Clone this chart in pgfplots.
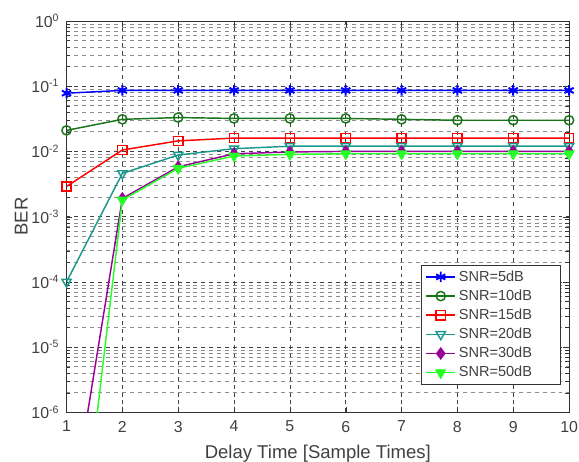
\documentclass[border=0pt]{standalone}
\usepackage{pgfplots}
\pgfplotsset{compat=1.18}
\usepackage{fontspec}
\setmainfont{Liberation Sans}

\definecolor{c5}{rgb}{0,0,1}
\definecolor{c10}{rgb}{0.1,0.45,0.1}
\definecolor{c15}{rgb}{1,0,0}
\definecolor{c20}{rgb}{0.1,0.6,0.55}
\definecolor{c30}{rgb}{0.6,0,0.6}
\definecolor{c50}{rgb}{0.15,1,0.15}

\newcommand{\legtext}[1]{\makebox[72pt][l]{#1}}

\begin{document}
\begin{tikzpicture}
% page frame: axis box is (0,0)--(380pt,296pt)
\useasboundingbox (-50.3pt,-36.8pt) rectangle (387.5pt,311.8pt);
\begin{semilogyaxis}[
  at={(0,0)}, anchor=south west,
  scale only axis,
  width=380pt, height=296pt,
  xmin=1, xmax=10, ymin=1e-6, ymax=1,
  xtick={1,...,10},
  xticklabels={1,2,3,4,5,6,7,8,9,10},
  ytick={1e-6,1e-5,1e-4,1e-3,1e-2,1e-1,1},
  yticklabels={10\textsuperscript{-6},10\textsuperscript{-5},10\textsuperscript{-4},
    10\textsuperscript{-3},10\textsuperscript{-2},10\textsuperscript{-1},10\textsuperscript{0}},
  grid=both,
  major grid style={black!75, dashed, line width=0.5pt},
  minor grid style={black!45, dashed, line width=0.5pt},
  axis line style={black!80, line width=0.6pt},
  tick style={black!80},
  tick align=inside,
  ticklabel style={font=\fontsize{12}{14}\selectfont, text=black!75},
  xticklabel style={yshift=-3pt},
  yticklabel style={xshift=-2pt},
  xlabel={Delay Time [Sample Times]},
  ylabel={BER},
  label style={font=\fontsize{14}{16}\selectfont, text=black!75},
  xlabel style={yshift=-3pt},
  ylabel style={yshift=-4pt},
  legend style={at={(0.984,0.071)}, anchor=south east,
    font=\fontsize{11}{13}\selectfont, draw=black!80, line width=0.6pt,
    row sep=1pt, inner xsep=3pt, inner ysep=2pt, text=black!75},
  legend cell align=left,
  legend image code/.code={%
    \draw[mark repeat=2, mark phase=2] plot coordinates {(0cm,0cm) (0.39cm,0cm) (0.78cm,0cm)};},
  every axis plot/.append style={line width=1.1pt},
]
\addplot[c5, mark=asterisk, mark size=4pt, mark options={line width=1.5pt}] coordinates {
  (1,0.078) (2,0.086) (3,0.086) (4,0.086) (5,0.086) (6,0.086) (7,0.086) (8,0.086) (9,0.086) (10,0.086)
};
\addplot[c10, mark=o, mark size=3.5pt] coordinates {
  (1,0.021) (2,0.031) (3,0.033) (4,0.032) (5,0.032) (6,0.032) (7,0.031) (8,0.030) (9,0.030) (10,0.030)
};
\addplot[c15, mark=square, mark size=3.5pt] coordinates {
  (1,0.0029) (2,0.0105) (3,0.0145) (4,0.016) (5,0.016) (6,0.016) (7,0.016) (8,0.016) (9,0.016) (10,0.016)
};
\addplot[c20, mark=triangle, mark size=4pt, mark options={rotate=180}] coordinates {
  (1,0.0001) (2,0.0046) (3,0.0088) (4,0.011) (5,0.012) (6,0.012) (7,0.012) (8,0.012) (9,0.012) (10,0.012)
};
\addplot[c30, mark=diamond*, mark size=4pt] coordinates {
  (1,1e-8) (2,0.0019) (3,0.0058) (4,0.0092) (5,0.0098) (6,0.010) (7,0.010) (8,0.010) (9,0.010) (10,0.010)
};
\addplot[c50, mark=triangle*, mark size=4pt, mark options={rotate=180}] coordinates {
  (1,1e-10) (2,0.0018) (3,0.0055) (4,0.0085) (5,0.009) (6,0.0092) (7,0.0092) (8,0.0092) (9,0.0092) (10,0.0092)
};
\legend{\legtext{SNR=5dB}, \legtext{SNR=10dB}, \legtext{SNR=15dB}, \legtext{SNR=20dB}, \legtext{SNR=30dB}, \legtext{SNR=50dB}}
\end{semilogyaxis}
\end{tikzpicture}
\end{document}
